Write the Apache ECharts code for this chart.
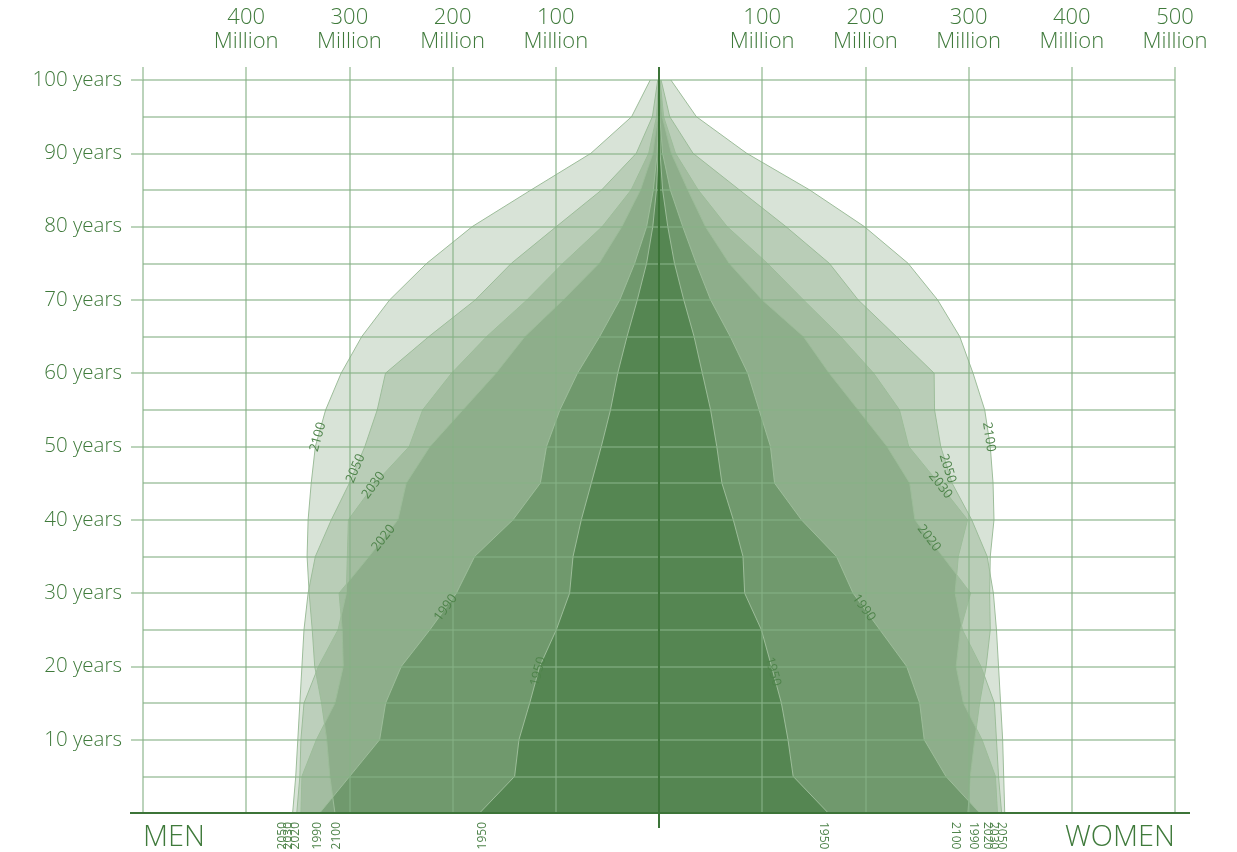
<!DOCTYPE html>
<html>
<head>
<meta charset="utf-8">
<script src="https://cdn.jsdelivr.net/npm/echarts/dist/echarts.min.js"></script>
<style>
html, body { margin: 0; padding: 0; background: #fff; }
#main { width: 1237px; height: 852px; }
</style>
</head>
<body>
<div id="main"></div>
<script>
// age groups (lower bound of 5-year groups), bottom to top
var ages = [0, 5, 10, 15, 20, 25, 30, 35, 40, 45, 50, 55, 60, 65, 70, 75, 80, 85, 90, 95, 100];
// drawn from back (lightest) to front (darkest)
var years = ['2100', '2050', '2030', '2020', '1990', '1950'];

// millions, men
var men2100 = [314, 319, 322, 327, 333.6, 336, 339, 341, 340, 337, 333, 323, 308, 288, 261, 225, 181, 124, 66, 26.5, 8.5];
var men2050 = [355, 352, 350, 348, 346, 344, 340, 333, 317.5, 300, 285, 273, 265, 223, 178, 143, 99.5, 55.6, 22, 6.4, 1.2];
var men2030 = [351, 348, 347, 344, 330, 311, 303, 302, 301, 275, 242, 229, 201, 167, 128, 93, 55, 27, 10, 2.4, 0.4];
var men2020 = [347, 346, 332, 314, 306, 307, 310, 281, 253, 245, 222, 190, 158, 130, 93, 58, 36, 18, 6, 1.3, 0.2];
var men1990 = [328.8, 299.7, 270.7, 264.9, 249.7, 222, 196.3, 178.6, 141.5, 115, 109, 96, 79, 57.5, 38, 23.6, 12, 5.5, 1.8, 0.4, 0.05];
var men1950 = [173.8, 139.9, 135.7, 125.3, 115.6, 99.5, 86.6, 83.3, 75.3, 65.6, 55.9, 47, 40, 31, 21, 12, 6, 2.5, 0.8, 0.15, 0.02];

// millions, women
var women2100 = [299.4, 301.7, 306, 310.7, 317, 321, 320.4, 321, 324.6, 323.7, 321, 315.6, 304.3, 291.4, 270, 241.3, 199, 146, 85, 36.2, 11.5];
var women2050 = [335, 334, 333, 331, 329, 327, 324, 318, 303, 284, 273, 267, 266.6, 230, 193, 165, 123, 78, 33, 10.4, 2];
var women2030 = [332, 329, 327, 325, 312, 294, 287, 290, 299, 271, 242, 233, 208, 176, 140, 105, 66, 38, 16, 4.5, 1];
var women2020 = [328, 326, 313, 295, 288, 292, 302, 275, 248, 243, 221, 193, 165, 140, 100, 68, 45, 28, 12, 3.2, 0.5];
var women1990 = [310.8, 278, 257, 252.6, 240, 214, 188, 172, 138, 112, 108, 97, 86, 69, 50, 36, 23, 11, 3.5, 0.8, 0.1];
var women1950 = [164, 130, 125, 118.6, 109, 99.2, 83, 81.4, 72, 61, 56, 50, 42, 34, 24, 15, 8.5, 3.5, 1.1, 0.2, 0.03];

var menData = [men2100, men2050, men2030, men2020, men1990, men1950];
var womenData = [women2100, women2050, women2030, women2020, women1990, women1950];

// where the year is written along each outline (age)
var labelAge = [51.3, 47, 44.7, 37.5, 28, 19.3];

var green = '#3f7a3b';
var yearGreen = '#4f844b';
var axisGreen = '#3c7438';
var gridColor = 'rgba(135,178,133,0.75)';
var font = "'Open Sans', sans-serif";
var layerAlpha = [0.2, 0.2, 0.18, 0.2, 0.36, 0.52];

var chart = echarts.init(document.getElementById('main'));

var series = [];
years.forEach(function (y, i) {
    var fill = 'rgba(62,117,57,' + layerAlpha[i] + ')';
    series.push({
        name: y + ' men',
        type: 'line',
        symbol: 'none',
        z: 1,
        data: menData[i].map(function (v) { return -v; }),
        lineStyle: { color: '#9dbd9a', width: 1 },
        areaStyle: { color: fill, opacity: 1, origin: 'auto' }
    });
    series.push({
        name: y + ' women',
        type: 'line',
        symbol: 'none',
        z: 1,
        data: womenData[i],
        lineStyle: { color: '#9dbd9a', width: 1 },
        areaStyle: { color: fill, opacity: 1, origin: 'auto' }
    });
});

var option = {
    animation: false,
    grid: { left: 143, right: 62, top: 80, bottom: 39 },
    xAxis: [
        {
            type: 'value',
            position: 'top',
            min: -500,
            max: 500,
            interval: 100,
            z: 10,
            axisLine: { show: false },
            axisTick: { show: true, length: 13, lineStyle: { color: gridColor, width: 1.5 } },
            axisLabel: {
                margin: 26,
                color: green,
                fontSize: 22,
                lineHeight: 24,
                fontFamily: font,
                fontWeight: 300,
                formatter: function (v) {
                    return (v === 0 || v === -500) ? '' : Math.abs(v) + '\nMillion';
                }
            },
            splitLine: { show: true, lineStyle: { color: gridColor, width: 1.5 } }
        },
        {
            type: 'value',
            position: 'bottom',
            min: -500,
            max: 500,
            interval: 500,
            axisLine: { show: false },
            axisTick: { show: false },
            splitLine: { show: false },
            axisLabel: {
                margin: 10,
                color: green,
                fontSize: 29,
                fontFamily: font,
                fontWeight: 300,
                alignMinLabel: 'left',
                alignMaxLabel: 'right',
                formatter: function (v) {
                    return v < 0 ? 'MEN' : (v > 0 ? 'WOMEN' : '');
                }
            }
        }
    ],
    yAxis: {
        type: 'category',
        data: ages.map(String),
        boundaryGap: false,
        z: 10,
        axisLine: { show: false, onZero: false },
        axisTick: {
            show: true,
            length: 12,
            interval: function (i) { return ages[i] % 10 === 0 && ages[i] > 0; },
            lineStyle: { color: gridColor, width: 1.5 }
        },
        axisLabel: {
            margin: 21,
            color: green,
            fontSize: 20.5,
            fontFamily: font,
            fontWeight: 300,
            padding: [0, 0, 14, 0],
            interval: function (i) { return ages[i] % 10 === 0 && ages[i] > 0; },
            formatter: function (v) { return v + ' years'; }
        },
        splitLine: { show: true, interval: 0, lineStyle: { color: gridColor, width: 1.5 } }
    },
    series: series
};
chart.setOption(option);

// decorations and year labels, placed from the data through the axes
(function () {
    function px(v, idx) {
        return chart.convertToPixel({ seriesIndex: 0 }, [v, idx]);
    }
    var g = [];
    var o = px(0, 0);
    var top = px(0, ages.length - 1);
    var lft = px(-500, 0);
    var rgt = px(500, 0);
    g.push({ type: 'line', z: 20, shape: { x1: lft[0] - 13, y1: o[1], x2: rgt[0] + 15, y2: o[1] }, style: { stroke: axisGreen, lineWidth: 2 } });
    g.push({ type: 'line', z: 20, shape: { x1: o[0], y1: top[1] - 13, x2: o[0], y2: o[1] + 15 }, style: { stroke: axisGreen, lineWidth: 2 } });

    // labels along each outline
    function along(vals, sign, age, text) {
        var k = Math.min(Math.floor(age / 5), ages.length - 2);
        var t = age / 5 - k;
        var p0 = px(sign * vals[k], k);
        var p1 = px(sign * vals[k + 1], k + 1);
        var x = p0[0] + (p1[0] - p0[0]) * t;
        var y = p0[1] + (p1[1] - p0[1]) * t;
        var vx, vy;
        if (sign < 0) { vx = p1[0] - p0[0]; vy = p1[1] - p0[1]; }
        else { vx = p0[0] - p1[0]; vy = p0[1] - p1[1]; }
        g.push({
            type: 'text', z: 21, x: x, y: y, rotation: -Math.atan2(vy, vx),
            style: { text: text, fill: yearGreen, font: '13px ' + font, align: 'center', verticalAlign: 'middle' }
        });
    }
    // small shifts so the bottom year labels do not sit on each other
    var nudgeMen = [2, -10, -8, -5, -2, 3];
    var nudgeWomen = [-13, -3, -8, -10, -6, -5];
    years.forEach(function (y, i) {
        along(menData[i], -1, labelAge[i], y);
        along(womenData[i], 1, labelAge[i], y);
        var pm = px(-menData[i][0], 0);
        var pw = px(womenData[i][0], 0);
        g.push({
            type: 'text', z: 21, x: pm[0] + nudgeMen[i], y: pm[1] + 9, rotation: Math.PI / 2,
            style: { text: y, fill: yearGreen, font: '12px ' + font, align: 'right', verticalAlign: 'middle' }
        });
        g.push({
            type: 'text', z: 21, x: pw[0] + nudgeWomen[i], y: pw[1] + 9, rotation: -Math.PI / 2,
            style: { text: y, fill: yearGreen, font: '12px ' + font, align: 'left', verticalAlign: 'middle' }
        });
    });
    chart.setOption({ graphic: g });
})();
</script>
</body>
</html>
